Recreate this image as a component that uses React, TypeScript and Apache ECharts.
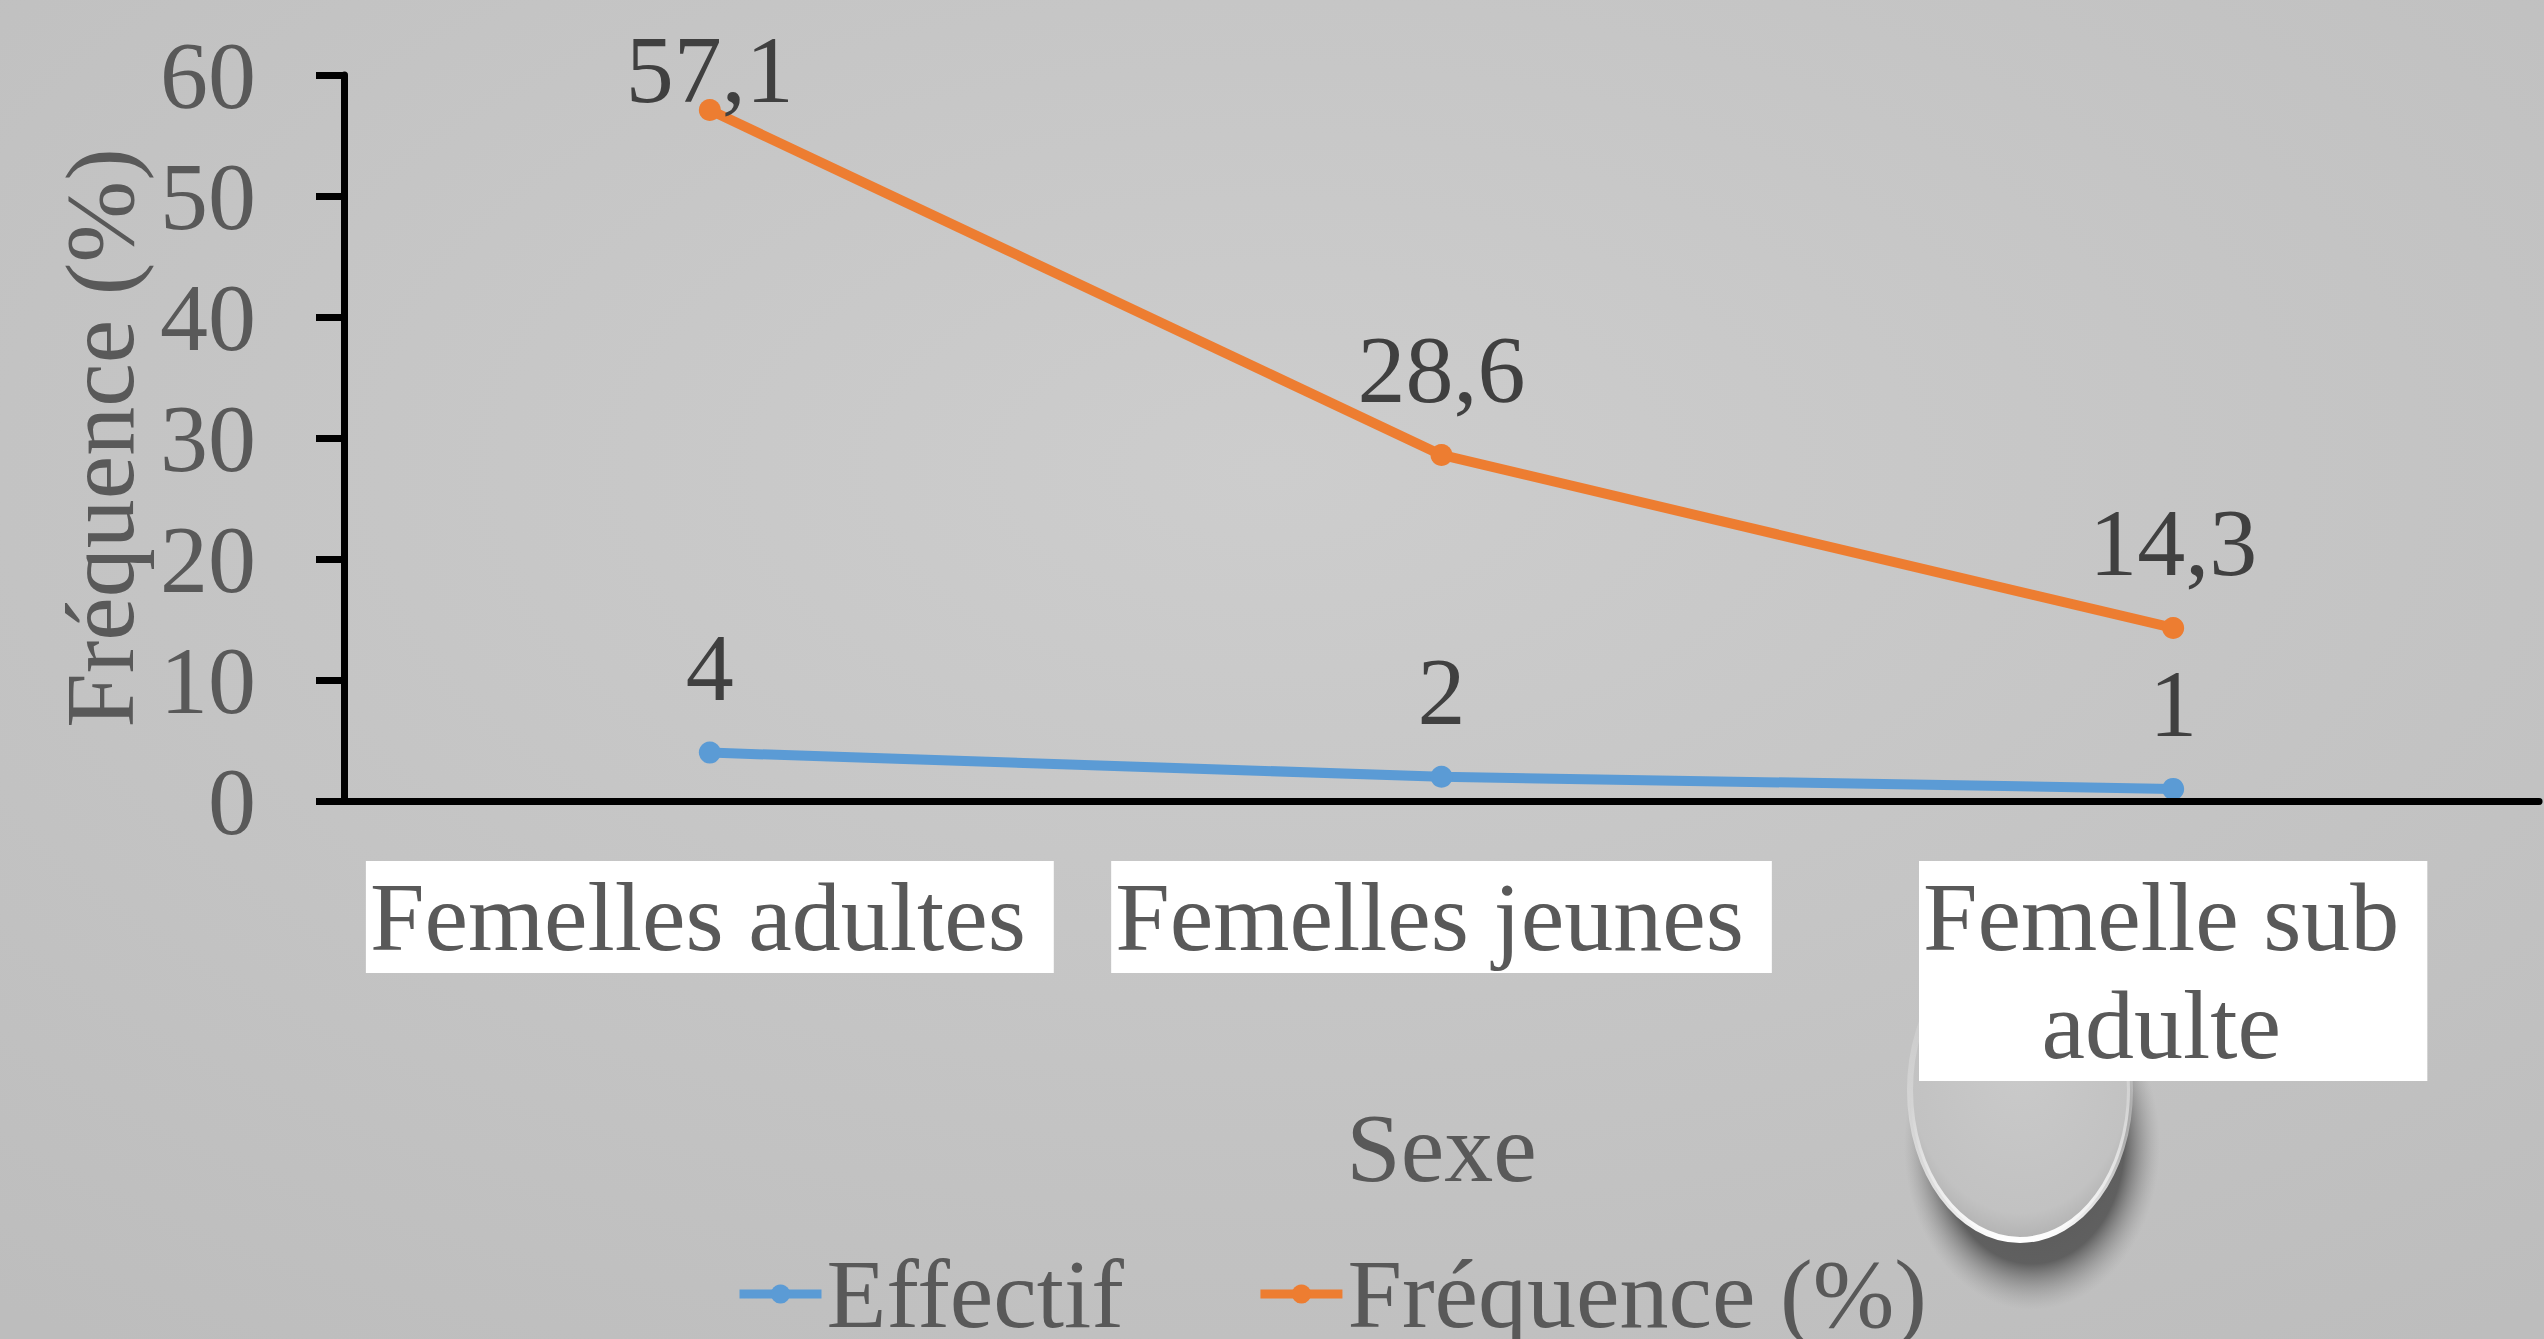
import React, { useEffect, useRef } from "react";
import * as echarts from "echarts";

const categories = ["Femelles adultes", "Femelles jeunes", "Femelle sub adulte"];
const tickLabels = ["Femelles adultes", "Femelles jeunes", "Femelle sub\nadulte"];
const effectif = [4, 2, 1];
const frequence = [57.1, 28.6, 14.3];
const yTicks = { min: 0, max: 60, interval: 10 };
const seriesNames = ["Effectif", "Fréquence (%)"];
const xAxisName = "Sexe";
const yAxisName = "Fréquence (%)";

const FONT = "'Liberation Serif', 'Times New Roman', serif";
const GRAY = "#595959";

export default function App() {
  const ref = useRef<HTMLDivElement>(null);
  useEffect(() => {
    if (!ref.current) return;
    const chart = echarts.init(ref.current, null, { renderer: "svg" });
    const fmt = (p: any) => String(p.value).replace(".", ",");
    const labelStyle = {
      show: true,
      position: "top",
      distance: 26,
      fontSize: 96,
      color: "#404040",
      fontFamily: FONT,
      formatter: fmt,
    };
    chart.setOption({
      animation: false,
      backgroundColor: {
        type: "radial",
        x: 0.5,
        y: 0.35,
        r: 0.8,
        colorStops: [
          { offset: 0, color: "#cdcdcd" },
          { offset: 1, color: "#bdbdbd" },
        ],
      },
      textStyle: { fontFamily: FONT },
      graphic: [
        {
          type: "ellipse",
          z: 1,
          shape: { cx: 2032, cy: 1145, rx: 128, ry: 165 },
          style: {
            fill: {
              type: "radial",
              x: 0.5,
              y: 0.5,
              r: 0.5,
              colorStops: [
                { offset: 0, color: "rgba(80,80,80,0.95)" },
                { offset: 0.72, color: "rgba(85,85,85,0.9)" },
                { offset: 1, color: "rgba(150,150,150,0)" },
              ],
            },
          },
        },
        {
          type: "ellipse",
          z: 1,
          shape: { cx: 2020, cy: 1090, rx: 110, ry: 150 },
          style: {
            fill: {
              type: "radial",
              x: 0.5,
              y: 0.4,
              r: 0.6,
              colorStops: [
                { offset: 0, color: "#cacaca" },
                { offset: 0.85, color: "#c2c2c2" },
                { offset: 1, color: "#b2b2b2" },
              ],
            },
            stroke: {
              type: "linear",
              x: 0,
              y: 0,
              x2: 0,
              y2: 1,
              colorStops: [
                { offset: 0, color: "rgba(255,255,255,0)" },
                { offset: 0.55, color: "rgba(255,255,255,0.3)" },
                { offset: 1, color: "rgba(255,255,255,1)" },
              ],
            },
            lineWidth: 6,
          },
        },
      ],
      grid: { left: 344, right: 5, top: 75, bottom: 538 },
      legend: {
        left: 730,
        top: 1240,
        itemWidth: 82,
        itemHeight: 24,
        itemGap: 132,
        lineStyle: { width: 9 },
        textStyle: { fontSize: 98, color: GRAY, fontFamily: FONT },
        data: seriesNames,
      },
      xAxis: {
        type: "category",
        data: categories,
        z: 5,
        name: xAxisName,
        nameLocation: "middle",
        nameGap: 298,
        nameTextStyle: { fontSize: 98, color: GRAY, fontFamily: FONT },
        axisLine: { lineStyle: { color: "#000", width: 7 } },
        axisTick: { length: 26, lineStyle: { color: "#000", width: 7 } },
        axisLabel: {
          interval: 0,
          margin: 60,
          fontSize: 98,
          lineHeight: 108,
          color: GRAY,
          fontFamily: FONT,
          backgroundColor: "#ffffff",
          padding: [2, 28, 2, 4],
          formatter: (_v: string, i: number) => tickLabels[i],
        },
      },
      yAxis: {
        type: "value",
        ...yTicks,
        z: 5,
        name: yAxisName,
        nameLocation: "middle",
        nameRotate: 90,
        nameGap: 195,
        nameTextStyle: { fontSize: 98, color: GRAY, fontFamily: FONT },
        splitLine: { show: false },
        axisLine: { show: true, lineStyle: { color: "#000", width: 7 } },
        axisTick: { show: true, length: 28, lineStyle: { color: "#000", width: 7 } },
        axisLabel: { margin: 88, fontSize: 96, color: GRAY, fontFamily: FONT },
      },
      series: [
        {
          name: seriesNames[0],
          type: "line",
          data: effectif,
          color: "#5B9BD5",
          symbol: "circle",
          symbolSize: 22,
          lineStyle: { width: 10, color: "#5B9BD5" },
          label: labelStyle,
        },
        {
          name: seriesNames[1],
          type: "line",
          data: frequence.map((v, i) =>
            i === 0 ? { value: v, label: { distance: -18 } } : v
          ),
          color: "#ED7D31",
          symbol: "circle",
          symbolSize: 22,
          lineStyle: { width: 10, color: "#ED7D31" },
          label: labelStyle,
        },
      ],
    });
    return () => chart.dispose();
  }, []);
  return (
    <div
      ref={ref}
      style={{ position: "fixed", left: 0, top: 0, width: 2544, height: 1339 }}
    />
  );
}
